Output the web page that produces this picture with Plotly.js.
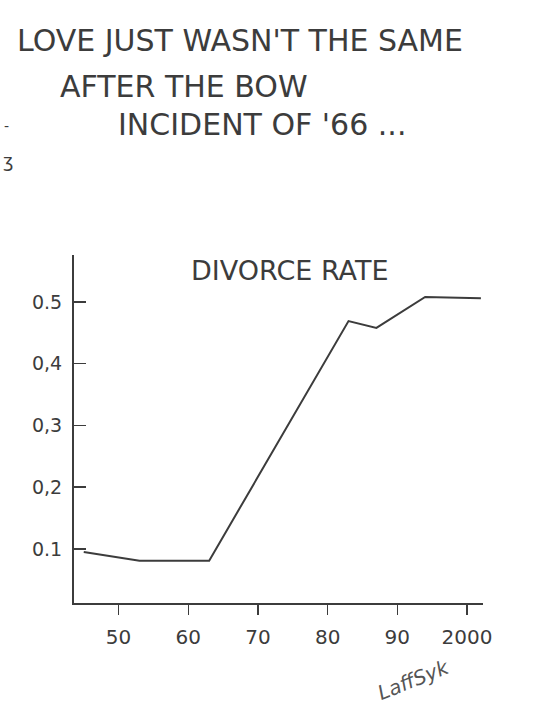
<!DOCTYPE html>
<html>
<head>
<meta charset="utf-8">
<script src="https://cdn.plot.ly/plotly-3.0.1.min.js"></script>
<style>
  html, body { margin: 0; padding: 0; background: #ffffff; }
  #chart { width: 540px; height: 709px; }
</style>
</head>
<body>
<div id="chart"></div>
<script>
// ---- data ----
var years = [1945, 1953, 1963, 1983, 1987, 1994, 2002];
var divorceRate = [0.095, 0.081, 0.081, 0.469, 0.458, 0.508, 0.506];

var xTickVals = [1950, 1960, 1970, 1980, 1990, 2000];
var xTickText = ["50", "60", "70", "80", "90", "2000"];
var yTickVals = [0.1, 0.2, 0.3, 0.4, 0.5];
var yTickText = ["0.1", "0,2", "0,3", "0,4", "0.5"];

var titleLines = ["LOVE JUST WASN'T THE SAME", "AFTER THE BOW", "INCIDENT OF '66 ..."];
var chartLabel = "DIVORCE RATE";
var signature = "LaffSyk";

// ---- layout helpers ----
var W = 540, H = 709;
var M = {l: 74, r: 57, t: 255, b: 106};
var PW = W - M.l - M.r, PH = H - M.t - M.b;
function px(x) { return (x - M.l) / PW; }
function py(y) { return (H - M.b - y) / PH; }

var ink = '#3c3c3c';
var font = 'DejaVu Sans, Liberation Sans, sans-serif';

var trace = {
  x: years,
  y: divorceRate,
  type: 'scatter',
  mode: 'lines',
  line: {color: ink, width: 2},
  hoverinfo: 'skip'
};

var annotations = [
  {text: titleLines[0], x: px(240), y: py(41), size: 30},
  {text: titleLines[1], x: px(184), y: py(86), size: 30},
  {text: titleLines[2], x: px(262), y: py(124), size: 30},
  {text: chartLabel, x: px(290), y: py(270), size: 27}
].map(function (a) {
  return {
    text: a.text, xref: 'paper', yref: 'paper', x: a.x, y: a.y,
    xanchor: 'center', yanchor: 'middle', showarrow: false,
    font: {family: font, size: a.size, color: ink}
  };
});

annotations.push({
  text: signature, xref: 'paper', yref: 'paper', x: px(413), y: py(680),
  xanchor: 'center', yanchor: 'middle', showarrow: false, textangle: -22,
  font: {family: font, size: 20, color: '#555', style: 'italic'}
});
annotations.push({
  text: '-', xref: 'paper', yref: 'paper', x: px(6), y: py(126),
  xanchor: 'center', yanchor: 'middle', showarrow: false,
  font: {family: font, size: 14, color: ink}
});
annotations.push({
  text: 'ʒ', xref: 'paper', yref: 'paper', x: px(8), y: py(160),
  xanchor: 'center', yanchor: 'middle', showarrow: false,
  font: {family: font, size: 18, color: ink}
});

var layout = {
  width: W, height: H,
  margin: {l: M.l, r: M.r, t: M.t, b: M.b, pad: 0},
  paper_bgcolor: '#ffffff',
  plot_bgcolor: '#ffffff',
  showlegend: false,
  xaxis: {
    range: [1943.6, 2002.3],
    showgrid: false, zeroline: false,
    showline: true, linecolor: ink, linewidth: 2,
    ticks: 'outside', ticklen: 10, tickwidth: 1.5, tickcolor: ink,
    tickmode: 'array', tickvals: xTickVals, ticktext: xTickText,
    tickfont: {family: font, size: 20, color: ink},
    ticklabelstandoff: 5,
    fixedrange: true
  },
  yaxis: {
    range: [0.0125, 0.576],
    showgrid: false, zeroline: false,
    showline: true, linecolor: ink, linewidth: 2,
    ticks: 'inside', ticklen: 12, tickwidth: 1.5, tickcolor: ink,
    tickmode: 'array', tickvals: yTickVals, ticktext: yTickText,
    tickfont: {family: font, size: 19, color: ink},
    ticklabelstandoff: 6,
    fixedrange: true
  },
  annotations: annotations
};

Plotly.newPlot('chart', [trace], layout, {displayModeBar: false, staticPlot: true});
</script>
</body>
</html>
